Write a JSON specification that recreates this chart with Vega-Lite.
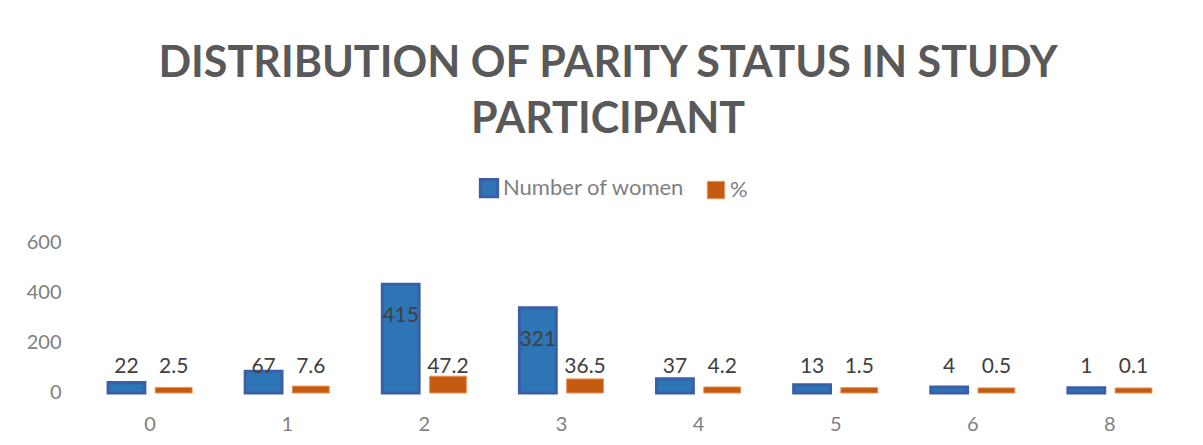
{
  "$schema": "https://vega.github.io/schema/vega-lite/v6.json",
  "width": 1096,
  "height": 150,
  "autosize": {"type": "none"},
  "padding": {"left": 82, "top": 242, "right": 25, "bottom": 53},
  "background": "white",
  "config": {"font": "Lato", "view": {"stroke": null}},
  "title": {
    "text": ["DISTRIBUTION OF PARITY STATUS IN STUDY", "PARTICIPANT"],
    "fontSize": 43,
    "fontWeight": "bold",
    "color": "#595959",
    "anchor": "middle",
    "frame": "group",
    "lineHeight": 56,
    "offset": 35,
    "dx": -22
  },
  "data": {
    "values": [
      {"parity": "0", "series": "Number of women", "value": 22},
      {"parity": "0", "series": "%", "value": 2.5},
      {"parity": "1", "series": "Number of women", "value": 67},
      {"parity": "1", "series": "%", "value": 7.6},
      {"parity": "2", "series": "Number of women", "value": 415},
      {"parity": "2", "series": "%", "value": 47.2},
      {"parity": "3", "series": "Number of women", "value": 321},
      {"parity": "3", "series": "%", "value": 36.5},
      {"parity": "4", "series": "Number of women", "value": 37},
      {"parity": "4", "series": "%", "value": 4.2},
      {"parity": "5", "series": "Number of women", "value": 13},
      {"parity": "5", "series": "%", "value": 1.5},
      {"parity": "6", "series": "Number of women", "value": 4},
      {"parity": "6", "series": "%", "value": 0.5},
      {"parity": "8", "series": "Number of women", "value": 1},
      {"parity": "8", "series": "%", "value": 0.1}
    ]
  },
  "encoding": {
    "x": {
      "field": "parity",
      "type": "nominal",
      "sort": null,
      "scale": {"paddingInner": 0.387, "paddingOuter": 0.19},
      "axis": {
        "title": null,
        "labelAngle": 0,
        "labelFontSize": 20,
        "labelColor": "#7f7f7f",
        "labelPadding": 22,
        "ticks": false,
        "domain": false
      }
    },
    "xOffset": {
      "field": "series",
      "type": "nominal",
      "sort": ["Number of women", "%"],
      "scale": {"paddingInner": 0.22, "paddingOuter": 0}
    }
  },
  "layer": [
    {
      "mark": {"type": "bar", "yOffset": -4, "y2Offset": 1},
      "encoding": {
        "y": {
          "field": "value",
          "type": "quantitative",
          "scale": {"domain": [0, 600], "nice": false},
          "axis": {
            "title": null,
            "values": [0, 200, 400, 600],
            "labelFontSize": 20,
            "labelColor": "#7f7f7f",
            "labelPadding": 21,
            "ticks": false,
            "domain": false,
            "grid": false
          }
        },
        "y2": {"datum": 0},
        "color": {
          "field": "series",
          "type": "nominal",
          "scale": {"domain": ["Number of women", "%"], "range": ["#2E75B6", "#C55A11"]},
          "legend": {
            "title": null,
            "orient": "none",
            "direction": "horizontal",
            "legendX": 396,
            "legendY": -65,
            "symbolType": "square",
            "symbolSize": 300,
            "labelFontSize": 22,
            "labelColor": "#7f7f7f",
            "labelLimit": 400,
            "columnPadding": 20,
            "labelOffset": 3
          }
        },
        "stroke": {
          "field": "series",
          "type": "nominal",
          "scale": {"domain": ["Number of women", "%"], "range": ["#3B5EA8", "#E9925A"]},
          "legend": null
        },
        "strokeWidth": {
          "field": "series",
          "type": "nominal",
          "scale": {"domain": ["Number of women", "%"], "range": [3, 1]},
          "legend": null
        }
      }
    },
    {
      "transform": [{"filter": "datum.value < 100"}],
      "mark": {"type": "text", "fontSize": 21, "color": "#404040", "dy": -25},
      "encoding": {
        "y": {"datum": 0, "type": "quantitative"},
        "text": {"field": "value", "type": "quantitative"}
      }
    },
    {
      "transform": [{"filter": "datum.value >= 100"}],
      "mark": {"type": "text", "fontSize": 21, "color": "#404040", "dy": 28},
      "encoding": {
        "y": {"field": "value", "type": "quantitative"},
        "text": {"field": "value", "type": "quantitative"}
      }
    }
  ]
}
